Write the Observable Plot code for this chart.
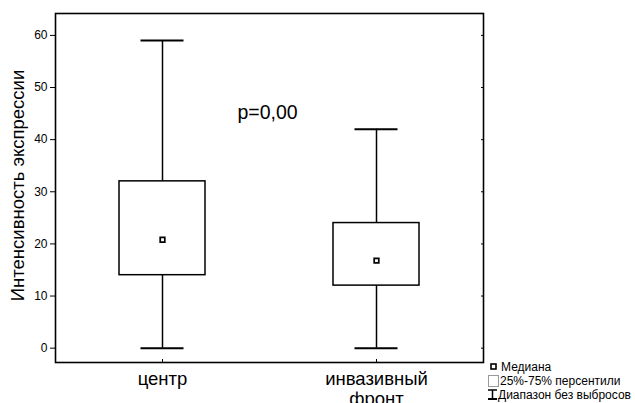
<!DOCTYPE html>
<html>
<head>
<meta charset="utf-8">
<script src="https://cdn.jsdelivr.net/npm/d3@7"></script>
<script src="https://cdn.jsdelivr.net/npm/@observablehq/plot@0.6"></script>
<style>
  html, body { margin: 0; padding: 0; background: #fff; }
  #chart { position: relative; width: 635px; height: 403px; overflow: hidden; }
  svg { font-family: "Liberation Sans", Arial, sans-serif; }
</style>
</head>
<body>
<div id="chart"></div>
<script>
// Data
const categories = ["центр", "инвазивный\nфронт"];
const medians = [20.8, 16.8];
const q1 = [14, 12];
const q3 = [32, 24];
const whiskerMin = [0, 0];
const whiskerMax = [59, 42];
const yTicks = [0, 10, 20, 30, 40, 50, 60];
const yLabel = "Интенсивность экспрессии";
const pLabel = "p=0,00";
const legendLabels = ["Медиана", "25%-75% персентили", "Диапазон без выбросов"];

const data = categories.map((c, i) => ({
  cat: c, median: medians[i], q1: q1[i], q3: q3[i], min: whiskerMin[i], max: whiskerMax[i]
}));

const plot = Plot.plot({
  width: 635,
  height: 403,
  marginLeft: 55,
  marginRight: 152,
  marginTop: 13,
  marginBottom: 41,
  style: { fontFamily: "'Liberation Sans', Arial, sans-serif", background: "white", color: "black" },
  x: { type: "band", domain: categories, padding: 0 },
  y: { domain: [-2.75, 64.2] },
  marks: [
    Plot.axisY({ ticks: yTicks, tickSize: 5, tickPadding: 3, fontSize: 12, label: null, strokeWidth: 1 }),
    Plot.axisY({ anchor: "right", ticks: yTicks, tickSize: 3, dx: -3, tickFormat: () => "", label: null }),
    Plot.axisX({ tickSize: 3, dy: -3, tickFormat: () => "", label: null }),
    Plot.axisX({ tickSize: 0, tickPadding: 9, fontSize: 18.5, lineHeight: 1.05, label: null }),
    Plot.ruleX(data, { x: "cat", y1: "min", y2: "max", stroke: "black", strokeWidth: 1.5 }),
    Plot.barY(data, { x: "cat", y1: "q1", y2: "q3", fill: "white", stroke: "black", strokeWidth: 1.5, insetLeft: 64, insetRight: 64 }),
    Plot.tickY(data, { x: "cat", y: "max", stroke: "black", strokeWidth: 2, insetLeft: 85.5, insetRight: 85.5 }),
    Plot.tickY(data, { x: "cat", y: "min", stroke: "black", strokeWidth: 2, insetLeft: 85.5, insetRight: 85.5 }),
    Plot.dot(data, { x: "cat", y: "median", symbol: "square", r: 2.6, stroke: "black", strokeWidth: 1.7, fill: "white" }),
    Plot.text([pLabel], { x: () => categories[0], y: () => 45.2, dx: 105, text: d => d, fontSize: 19.5, fill: "black" }),
    Plot.frame({ stroke: "black", strokeWidth: 1.6 })
  ]
});

document.getElementById("chart").appendChild(plot);

// Y-axis label and legend drawn into the same SVG
const svg = d3.select(plot);
const y = plot.scale("y");
const yMid = (y.range[0] + y.range[1]) / 2;
svg.append("text")
  .attr("transform", `translate(24,${yMid - 2}) rotate(-90)`)
  .attr("text-anchor", "middle")
  .attr("font-size", 18.5)
  .attr("fill", "black")
  .text(yLabel);

const lg = svg.append("g").attr("font-size", 12).attr("fill", "black").attr("text-anchor", "start");
// Median icon
lg.append("rect").attr("x", 491).attr("y", 364).attr("width", 5).attr("height", 5)
  .attr("fill", "white").attr("stroke", "black").attr("stroke-width", 1.6);
lg.append("text").attr("x", 501).attr("y", 371).text(legendLabels[0]);
// Box icon
lg.append("rect").attr("x", 488.5).attr("y", 375.5).attr("width", 10).attr("height", 11)
  .attr("fill", "white").attr("stroke", "#9a9a9a").attr("stroke-width", 1);
lg.append("text").attr("x", 500).attr("y", 385).text(legendLabels[1]);
// Range icon
const ri = lg.append("g").attr("stroke", "black").attr("stroke-width", 1.5);
ri.append("line").attr("x1", 488).attr("x2", 497).attr("y1", 390).attr("y2", 390);
ri.append("line").attr("x1", 492.5).attr("x2", 492.5).attr("y1", 390).attr("y2", 399);
ri.append("line").attr("x1", 488).attr("x2", 497).attr("y1", 399).attr("y2", 399).attr("stroke-width", 2);
lg.append("text").attr("x", 498).attr("y", 398.5).text(legendLabels[2]);
</script>
</body>
</html>
